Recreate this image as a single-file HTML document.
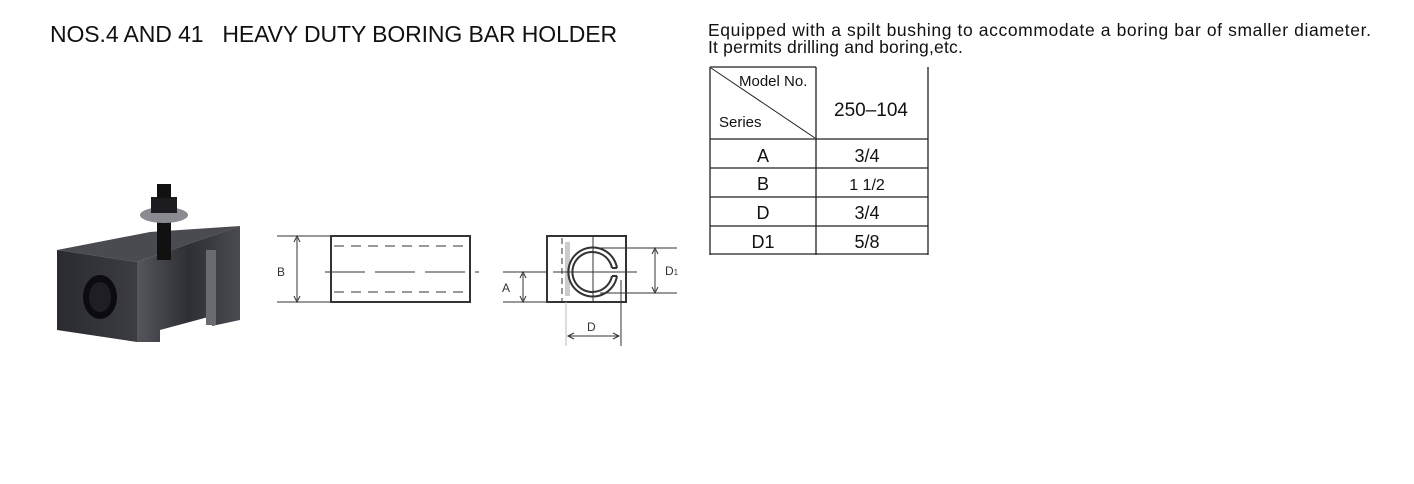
<!DOCTYPE html>
<html><head><meta charset="utf-8"><style>
body{margin:0;background:#fff;width:1414px;height:484px;overflow:hidden;position:relative;font-family:"Liberation Sans",sans-serif;}
.t{position:absolute;white-space:nowrap;color:#111;}
</style></head><body>
<div class="t" style="left:50px;top:21px;font-size:23px;letter-spacing:-0.1px;">NOS.4 AND 41&nbsp;&nbsp; HEAVY DUTY BORING BAR HOLDER</div>
<div class="t" style="left:708px;top:22px;font-size:17.5px;line-height:17px;letter-spacing:0.6px;">Equipped with a spilt bushing to accommodate a boring bar of smaller diameter.<br><span style="letter-spacing:0.2px">It permits drilling and boring,etc.</span></div>
<svg width="1414" height="484" style="position:absolute;left:0;top:0" font-family="Liberation Sans, sans-serif">
<g stroke="#222" stroke-width="1.3" fill="none">
<line x1="710" y1="67" x2="710" y2="255"/>
<line x1="816" y1="67" x2="816" y2="255"/>
<line x1="928" y1="67" x2="928" y2="255"/>
<line x1="710" y1="67" x2="816" y2="67"/>
<line x1="710" y1="139" x2="928" y2="139"/>
<line x1="710" y1="168" x2="928" y2="168"/>
<line x1="710" y1="197" x2="928" y2="197"/>
<line x1="710" y1="226" x2="928" y2="226"/>
<line x1="710" y1="254" x2="928" y2="254"/>
<line x1="711" y1="68" x2="815" y2="138" stroke-width="1"/>
</g>
<g fill="#111" font-size="16">
<text x="739" y="86" font-size="15">Model No.</text>
<text x="719" y="127" font-size="15">Series</text>
<text x="871" y="116" text-anchor="middle" font-size="19">250–104</text>
<text x="763" y="162" text-anchor="middle" font-size="18">A</text>
<text x="867" y="162" text-anchor="middle" font-size="18">3/4</text>
<text x="763" y="190" text-anchor="middle" font-size="18">B</text>
<text x="867" y="190" text-anchor="middle" font-size="16">1 1/2</text>
<text x="763" y="219" text-anchor="middle" font-size="18">D</text>
<text x="867" y="219" text-anchor="middle" font-size="18">3/4</text>
<text x="763" y="248" text-anchor="middle" font-size="18">D1</text>
<text x="867" y="248" text-anchor="middle" font-size="18">5/8</text>
</g>
<g stroke="#333" fill="none">
<rect x="331" y="236" width="139" height="66" stroke-width="2"/>
<line x1="334" y1="246" x2="467" y2="246" stroke-dasharray="10,7"/>
<line x1="334" y1="292" x2="467" y2="292" stroke-dasharray="10,7"/>
<line x1="325" y1="272" x2="479" y2="272" stroke-dasharray="40,10"/>
<line x1="277" y1="236" x2="331" y2="236"/>
<line x1="277" y1="302" x2="331" y2="302"/>
<line x1="297" y1="238" x2="297" y2="300"/>
<path d="M294,242 L297,236 L300,242 M294,296 L297,302 L300,296"/>
</g>
<text x="277" y="276" font-size="12" fill="#333">B</text>
<g stroke="#333" fill="none">
<rect x="547" y="236" width="79" height="66" stroke-width="2"/>
<line x1="562" y1="238" x2="562" y2="302" stroke-dasharray="6,4"/>
<rect x="565" y="242" width="5" height="54" fill="#ccc" stroke="none"/>
<path d="M617,268 A24.5,24.5 0 1 0 617,276" stroke-width="2"/>
<path d="M612,268 A20,20 0 1 0 612,276" stroke-width="2"/>
<line x1="612" y1="268" x2="617" y2="268" stroke-width="2"/>
<line x1="612" y1="276" x2="617" y2="276" stroke-width="2"/>
<line x1="593" y1="236" x2="593" y2="302"/>
<line x1="553" y1="272" x2="637" y2="272"/>
<line x1="600" y1="248" x2="677" y2="248"/>
<line x1="600" y1="293" x2="677" y2="293"/>
<line x1="655" y1="250" x2="655" y2="291"/>
<path d="M652,254 L655,248 L658,254 M652,287 L655,293 L658,287"/>
<line x1="503" y1="272" x2="547" y2="272"/>
<line x1="503" y1="302" x2="547" y2="302"/>
<line x1="523" y1="274" x2="523" y2="300"/>
<path d="M520,278 L523,272 L526,278 M520,296 L523,302 L526,296"/>
<line x1="566" y1="302" x2="566" y2="346" stroke="#bbb"/>
<line x1="621" y1="280" x2="621" y2="346"/>
<line x1="568" y1="336" x2="619" y2="336"/>
<path d="M574,333 L568,336 L574,339 M613,333 L619,336 L613,339"/>
</g>
<text x="665" y="275" font-size="12" fill="#333">D<tspan font-size="8">1</tspan></text>
<text x="502" y="292" font-size="12" fill="#333">A</text>
<text x="587" y="331" font-size="12" fill="#333">D</text>
<defs>
<linearGradient id="g1" x1="0" x2="1"><stop offset="0" stop-color="#2a2b30"/><stop offset="1" stop-color="#3c3d42"/></linearGradient>
<linearGradient id="g2" x1="0" x2="1"><stop offset="0" stop-color="#55565b"/><stop offset="0.5" stop-color="#2e2f34"/><stop offset="1" stop-color="#4a4b50"/></linearGradient>
</defs>
<polygon points="57,250 150,232 240,226 137,262" fill="#4a4b50"/>
<polygon points="57,250 137,262 137,342 57,330" fill="url(#g1)"/>
<polygon points="137,262 240,226 240,320 212,326 212,316 160,330 160,342 137,342" fill="url(#g2)"/>
<rect x="206" y="250" width="10" height="75" fill="#6a6b70"/>
<ellipse cx="100" cy="297" rx="17" ry="22" fill="#0c0c10"/>
<ellipse cx="100" cy="297" rx="11" ry="15" fill="#1e1e24"/>
<rect x="157" y="210" width="14" height="50" fill="#111"/>
<ellipse cx="164" cy="215" rx="24" ry="8" fill="#8a8b90"/>
<rect x="151" y="197" width="26" height="16" fill="#1c1c20"/>
<rect x="157" y="184" width="14" height="14" fill="#111"/>
</svg>
</body></html>
